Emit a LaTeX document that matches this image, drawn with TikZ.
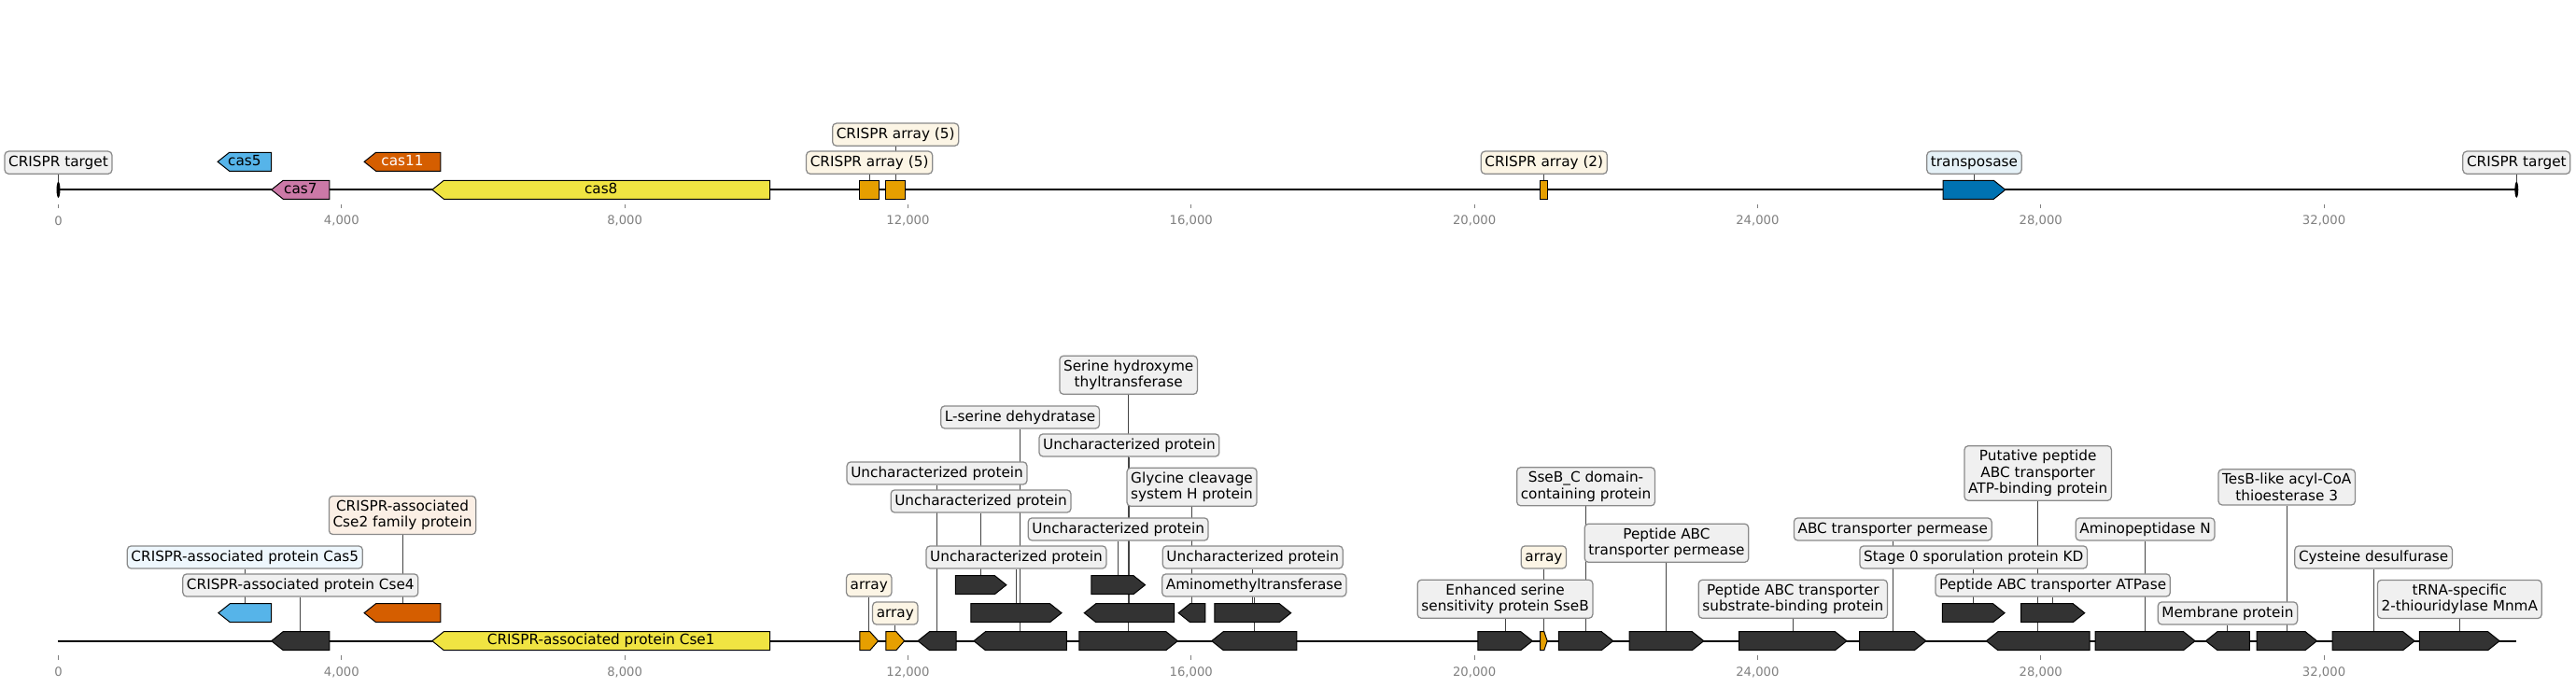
\documentclass[tikz,border=0pt]{standalone}
\usepackage{fontspec}
\setmainfont{DejaVu Sans}
\usetikzlibrary{backgrounds, calc}
\definecolor{skyblue}{HTML}{56B4E9}
\definecolor{pinkcas}{HTML}{CC79A7}
\definecolor{vermil}{HTML}{D55E00}
\definecolor{yellowcas}{HTML}{F0E442}
\definecolor{orangearr}{HTML}{E69F00}
\definecolor{bluetnp}{HTML}{0072B2}
\definecolor{darkgene}{HTML}{333333}
\definecolor{boxgray}{HTML}{F0F0F0}
\definecolor{boxblue}{HTML}{EEF7FD}
\definecolor{boxcream}{HTML}{FCF5E5}
\definecolor{boxpeach}{HTML}{FBEFE5}
\definecolor{boxtnp}{HTML}{E5F1F7}
\definecolor{edgegray}{HTML}{8A8A8A}
\definecolor{lnkgray}{HTML}{444444}
\definecolor{tickgray}{HTML}{808080}

% gene arrow: [text colour]{name}{start kb}{end kb}{y}{strand}{fill}{inner text}
\newcommand{\gene}[8][black]{%
  \pgfmathsetmacro\ghl{min(0.165,0.45*(#4-#3))}%
  \ifnum#6>0
    \draw[feat, fill=#7] (#3,#5-10) -- (#4-\ghl,#5-10) -- (#4,#5) -- (#4-\ghl,#5+10) -- (#3,#5+10) -- cycle;
  \else\ifnum#6<0
    \draw[feat, fill=#7] (#4,#5-10) -- (#3+\ghl,#5-10) -- (#3,#5) -- (#3+\ghl,#5+10) -- (#4,#5+10) -- cycle;
  \else
    \draw[feat, fill=#7] (#3,#5-10) rectangle (#4,#5+10);
  \fi\fi
  \coordinate (#2) at ({(#3+#4)/2},#5+10);
  \if\relax\detokenize{#8}\relax\else
    \node[gtxt, text=#1] (#2t) at ({(#3+#4)/2},#5) {#8};
  \fi
}

\begin{document}
\begin{tikzpicture}[x=54.6pt, y=0.72pt,
    feat/.style={draw=black, line width=0.72pt},
    track/.style={line width=1.44pt, black},
    gtxt/.style={font=\fontsize{11}{12.6}\selectfont, inner sep=0pt, text height=8.6pt, text depth=2.4pt},
    lbl/.style={draw=edgegray, line width=0.9pt, rounded corners=3pt, fill=boxgray,
                font=\fontsize{11}{12.6}\selectfont, inner xsep=3pt, inner ysep=3.2pt,
                text height=8.6pt, text depth=2.4pt, align=center},
    lblm/.style={lbl, text height=, text depth=},
    lnk/.style={lnkgray, line width=0.72pt},
    tck/.style={tickgray, line width=0.8pt},
    tlab/.style={font=\fontsize{9.5}{11}\selectfont, text=tickgray, inner sep=0pt}
]
\useasboundingbox (-0.8242,0) rectangle (35.560,736);

% top track
\draw[track] (0,532.7) -- (34.72,532.7);
\fill[black] (0,532.7) ellipse [x radius=1.4pt, y radius=6.1pt];
\fill[black] (34.72,532.7) ellipse [x radius=1.4pt, y radius=6.1pt];
\coordinate (tgl) at (0,541.2);
\coordinate (tgr) at (34.72,541.2);
\gene{ucas5}{2.25}{3.01}{562.7}{-1}{skyblue}{cas5}
\gene{ucas7}{3.01}{3.83}{532.7}{-1}{pinkcas}{cas7}
\gene[white]{ucas11}{4.32}{5.40}{562.7}{-1}{vermil}{cas11}
\gene{ucas8}{5.28}{10.05}{532.7}{-1}{yellowcas}{cas8}
\gene{uarr1}{11.32}{11.59}{532.7}{0}{orangearr}{}
\gene{uarr2}{11.69}{11.96}{532.7}{0}{orangearr}{}
\gene{uarr3}{20.93}{21.04}{532.7}{0}{orangearr}{}
\gene{utnp}{26.62}{27.50}{532.7}{1}{bluetnp}{}

\node[lbl] (ltgl) at (tgl |- 0,561.8) {CRISPR target};
\node[lbl, fill=boxcream] (luarr1) at (uarr1 |- 0,561.8) {CRISPR array (5)};
\node[lbl, fill=boxcream] (luarr2) at (uarr2 |- 0,591.8) {CRISPR array (5)};
\node[lbl, fill=boxcream] (luarr3) at (uarr3 |- 0,561.8) {CRISPR array (2)};
\node[lbl, fill=boxtnp] (lutnp) at (utnp |- 0,561.8) {transposase};
\node[lbl] (ltgr) at (tgr |- 0,561.8) {CRISPR target};

% bottom track
\draw[track] (0,49.3) -- (34.72,49.3);
\gene{bcas5}{2.26}{3.01}{79.3}{-1}{skyblue}{}
\gene{bcse4}{3.01}{3.83}{49.3}{-1}{darkgene}{}
\gene{bcse2}{4.32}{5.40}{79.3}{-1}{vermil}{}
\gene{bcse1}{5.28}{10.05}{49.3}{-1}{yellowcas}{CRISPR-associated protein Cse1}
\gene{barr1}{11.32}{11.58}{49.3}{1}{orangearr}{}
\gene{barr2}{11.69}{11.95}{49.3}{1}{orangearr}{}
\gene{ga}{12.14}{12.68}{49.3}{-1}{darkgene}{}
\gene{gb}{12.93}{14.24}{49.3}{-1}{darkgene}{}
\gene{gc}{14.42}{15.81}{49.3}{1}{darkgene}{}
\gene{gj}{16.29}{17.49}{49.3}{-1}{darkgene}{}
\gene{gd}{12.89}{14.17}{79.3}{1}{darkgene}{}
\gene{ge}{14.49}{15.76}{79.3}{-1}{darkgene}{}
\gene{gf}{15.82}{16.20}{79.3}{-1}{darkgene}{}
\gene{gg}{16.33}{17.41}{79.3}{1}{darkgene}{}
\gene{gh}{12.67}{13.39}{109.3}{1}{darkgene}{}
\gene{gi}{14.59}{15.35}{109.3}{1}{darkgene}{}
\gene{gk}{20.05}{20.82}{49.3}{1}{darkgene}{}
\gene{barr3}{20.93}{21.03}{49.3}{1}{orangearr}{}
\gene{gl}{21.19}{21.96}{49.3}{1}{darkgene}{}
\gene{gm}{22.19}{23.24}{49.3}{1}{darkgene}{}
\gene{gn}{23.74}{25.26}{49.3}{1}{darkgene}{}
\gene{go}{25.44}{26.38}{49.3}{1}{darkgene}{}
\gene{gv}{26.61}{27.49}{79.3}{1}{darkgene}{}
\gene{gw}{27.72}{28.62}{79.3}{1}{darkgene}{}
\gene{gp}{27.23}{28.69}{49.3}{-1}{darkgene}{}
\gene{gq}{28.77}{30.18}{49.3}{1}{darkgene}{}
\gene{gr}{30.33}{30.95}{49.3}{-1}{darkgene}{}
\gene{gs}{31.05}{31.90}{49.3}{1}{darkgene}{}
\gene{gt}{32.12}{33.28}{49.3}{1}{darkgene}{}
\gene{gu}{33.35}{34.48}{49.3}{1}{darkgene}{}

\node[lbl, fill=boxblue] (lbcas5) at (bcas5 |- 0,139) {CRISPR-associated protein Cas5};
\node[lbl] (lbcse4) at (bcse4 |- 0,109) {CRISPR-associated protein Cse4};
\node[lblm, fill=boxpeach] (lbcse2) at (bcse2 |- 0,184) {CRISPR-associated\\Cse2 family protein};
\node[lbl, fill=boxcream] (lbarr1) at (barr1 |- 0,109) {array};
\node[lbl, fill=boxcream] (lbarr2) at (barr2 |- 0,79) {array};
\node[lbl] (lga) at (ga |- 0,229) {Uncharacterized protein};
\node[lbl] (lgb) at (gb |- 0,289) {L-serine dehydratase};
\node[lblm] (lgc) at (gc |- 0,334.2) {Serine hydroxyme\\thyltransferase};
\node[lbl] (lgj) at (gj |- 0,109) {Aminomethyltransferase};
\node[lbl] (lgd) at (gd |- 0,139) {Uncharacterized protein};
\node[lbl] (lge) at (ge |- 0,259) {Uncharacterized protein};
\node[lblm] (lgf) at (gf |- 0,214.2) {Glycine cleavage\\system H protein};
\node[lbl] (lgg) at (gg |- 0,139) {Uncharacterized protein};
\node[lbl] (lgh) at (gh |- 0,199) {Uncharacterized protein};
\node[lbl] (lgi) at (gi |- 0,169) {Uncharacterized protein};
\node[lblm] (lgk) at (gk |- 0,94.2) {Enhanced serine\\sensitivity protein SseB};
\node[lbl, fill=boxcream] (lbarr3) at (barr3 |- 0,139) {array};
\node[lblm] (lgl) at (gl |- 0,214.7) {SseB\_C domain-\\containing protein};
\node[lblm] (lgm) at (gm |- 0,154.2) {Peptide ABC\\transporter permease};
\node[lblm] (lgn) at (gn |- 0,94.2) {Peptide ABC transporter\\substrate-binding protein};
\node[lbl] (lgo) at (go |- 0,169) {ABC transporter permease};
\node[lbl] (lgv) at (gv |- 0,139) {Stage 0 sporulation protein KD};
\node[lbl] (lgw) at (gw |- 0,109) {Peptide ABC transporter ATPase};
\node[lblm] (lgp) at (gp |- 0,229) {Putative peptide\\ABC transporter\\ATP-binding protein};
\node[lbl] (lgq) at (gq |- 0,169) {Aminopeptidase N};
\node[lbl] (lgr) at (gr |- 0,79) {Membrane protein};
\node[lblm] (lgs) at (gs |- 0,214) {TesB-like acyl-CoA\\thioesterase 3};
\node[lbl] (lgt) at (gt |- 0,139) {Cysteine desulfurase};
\node[lblm] (lgu) at (gu |- 0,94) {tRNA-specific\\2-thiouridylase MnmA};

% ticks
\foreach \k in {0,4,...,32}{
  \draw[tck] (\k,517.3) -- (\k,512.7);
  \node[tlab] (ta\k) at (\k,499.3) {\ifnum\k=0 0\else\k,000\fi};
  \draw[tck] (\k,33.9) -- (\k,29.3);
  \node[tlab] (tb\k) at (\k,15.9) {\ifnum\k=0 0\else\k,000\fi};
}

% label lines behind everything
\begin{scope}[on background layer]
\foreach \g in {tgl,tgr,uarr1,uarr2,uarr3,utnp,bcas5,bcse4,bcse2,barr1,barr2,barr3,
                ga,gb,gc,gd,ge,gf,gg,gh,gi,gj,gk,gl,gm,gn,go,gp,gq,gr,gs,gt,gu,gv,gw}
  \draw[lnk] (\g) -- (l\g);
\end{scope}
\end{tikzpicture}
\end{document}
